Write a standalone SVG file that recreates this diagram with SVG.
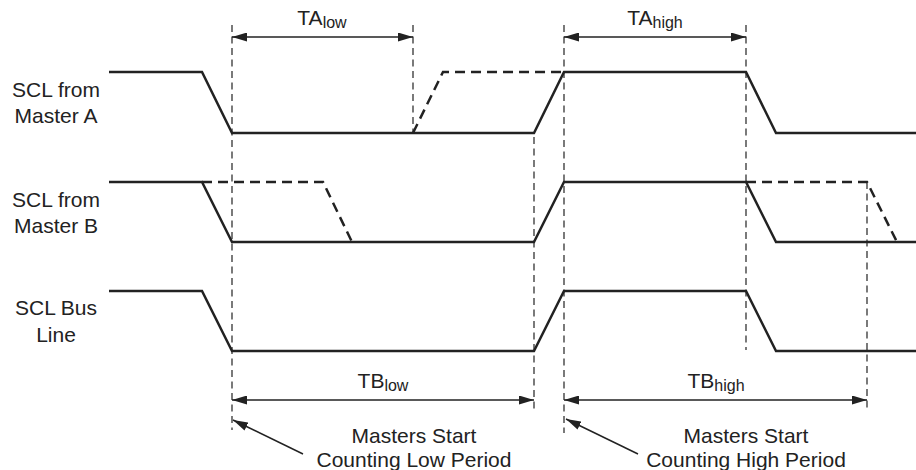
<svg xmlns="http://www.w3.org/2000/svg" width="916" height="470" viewBox="0 0 916 470">
<style>
text{font-family:"Liberation Sans",Arial,sans-serif;fill:#222;}
.lbl{font-size:21px;text-anchor:middle;}
.sub{font-size:16px;}
.sig{fill:none;stroke:#222;stroke-width:2.5;stroke-linejoin:miter;}
.sigd{fill:none;stroke:#222;stroke-width:2.5;stroke-dasharray:10 6;}
.grid{fill:none;stroke:#222;stroke-width:1.2;stroke-dasharray:7 4.5;}
.dim{fill:none;stroke:#222;stroke-width:1.5;}
</style>
<defs>
<marker id="ah" viewBox="0 0 15 9" refX="15" refY="4.5" markerWidth="15" markerHeight="9" markerUnits="userSpaceOnUse" orient="auto-start-reverse">
<path d="M0,0 L15,4.5 L0,9 Z" fill="#222"/>
</marker>
</defs>
<rect width="916" height="470" fill="#fff"/>

<g id="guides">
<line class="grid" x1="232" y1="25" x2="232" y2="430"/>
<line class="grid" x1="413" y1="25" x2="413" y2="133"/>
<line class="grid" x1="534" y1="137" x2="534" y2="410"/>
<line class="grid" x1="564" y1="25" x2="564" y2="433"/>
<line class="grid" x1="746" y1="25" x2="746" y2="350"/>
<line class="grid" x1="867" y1="182" x2="867" y2="412"/>
</g>

<g id="masterA">
<text class="lbl" x="56" y="97">SCL from</text>
<text class="lbl" x="56" y="123">Master A</text>
<path class="sig" d="M109,72 H202 L232,133 H534 L564,72 H746 L776,133 H916"/>
<path class="sigd" d="M413,133 L443,72 H564"/>
</g>

<g id="masterB">
<text class="lbl" x="56" y="207">SCL from</text>
<text class="lbl" x="56" y="233">Master B</text>
<path class="sig" d="M109,182 H202 L232,242 H534 L564,182 H746 L776,242 H916"/>
<path class="sigd" d="M202,182 H323 L352,242"/>
<path class="sigd" d="M746,182 H867 L897,242"/>
</g>

<g id="busLine">
<text class="lbl" x="56" y="315">SCL Bus</text>
<text class="lbl" x="56" y="342">Line</text>
<path class="sig" d="M109,291 H202 L232,351 H534 L564,291 H746 L776,351 H916"/>
</g>

<g id="TAlow"><text class="lbl" x="322" y="25">TA<tspan class="sub" dy="3">low</tspan></text></g>
<g id="TAhigh"><text class="lbl" x="655" y="25">TA<tspan class="sub" dy="3">high</tspan></text></g>
<g id="TBlow"><text class="lbl" x="383" y="388">TB<tspan class="sub" dy="3">low</tspan></text></g>
<g id="TBhigh"><text class="lbl" x="716" y="388">TB<tspan class="sub" dy="3">high</tspan></text></g>

<g id="noteLow">
<text class="lbl" x="414" y="443">Masters Start</text>
<text class="lbl" x="414" y="467">Counting Low Period</text>
</g>
<g id="noteHigh">
<text class="lbl" x="746" y="443">Masters Start</text>
<text class="lbl" x="746" y="467">Counting High Period</text>
</g>

<g id="connectors">
<line class="dim" x1="232" y1="37" x2="413" y2="37" marker-start="url(#ah)" marker-end="url(#ah)"/>
<line class="dim" x1="564" y1="37" x2="746" y2="37" marker-start="url(#ah)" marker-end="url(#ah)"/>
<line class="dim" x1="232" y1="400" x2="534" y2="400" marker-start="url(#ah)" marker-end="url(#ah)"/>
<line class="dim" x1="564" y1="400" x2="867" y2="400" marker-start="url(#ah)" marker-end="url(#ah)"/>
<line class="dim" x1="303" y1="454" x2="233" y2="420" marker-end="url(#ah)"/>
<line class="dim" x1="638" y1="454" x2="566" y2="419" marker-end="url(#ah)"/>
</g>
</svg>
